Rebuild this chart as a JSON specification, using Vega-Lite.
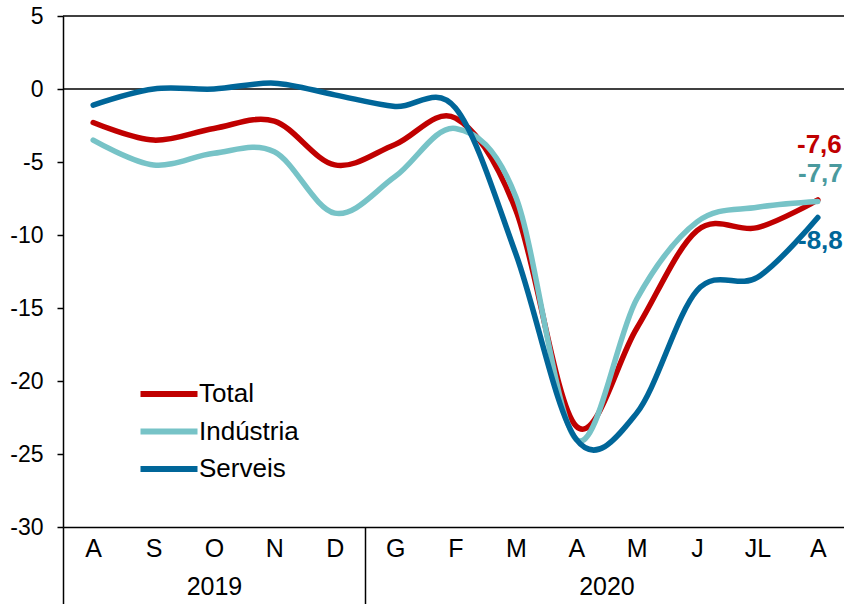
{
  "$schema": "https://vega.github.io/schema/vega-lite/v6.json",
  "width": 785,
  "height": 511,
  "autosize": "none",
  "padding": {"left": 63, "top": 16, "right": 0, "bottom": 77},
  "background": "white",
  "config": {
    "view": {"stroke": null},
    "font": "Liberation Sans",
    "locale": {"number": {"decimal": ",", "thousands": ".", "grouping": [3], "currency": ["", " €"], "minus": "-"}}
  },
  "layer": [
    {
      "data": {"values": [{"v": 0, "a": 0, "b": 13}, {"v": 5, "a": 0, "b": 13}]},
      "mark": {"type": "rule", "color": "black", "strokeWidth": 1.5},
      "encoding": {
        "y": {
          "field": "v", "type": "quantitative",
          "scale": {"domain": [-30, 5], "nice": false},
          "axis": {
            "title": null, "grid": false, "values": [-30, -25, -20, -15, -10, -5, 0, 5],
            "domainColor": "black", "domainWidth": 1.5,
            "tickColor": "black", "tickSize": 6, "tickWidth": 1.5,
            "labelFontSize": 23, "labelColor": "black", "labelPadding": 14,
            "labelFont": "Liberation Sans"
          }
        },
        "x": {
          "field": "a", "type": "quantitative",
          "scale": {"domain": [0, 13], "nice": false, "zero": false},
          "axis": {
            "orient": "bottom", "title": null, "domain": false, "grid": false,
            "values": [0, 2.5, 5, 9],
            "ticks": true, "tickSize": 77, "tickWidth": 1.5,
            "tickColor": {"condition": {"test": "datum.value == 0 || datum.value == 5", "value": "black"}, "value": "transparent"},
            "labelExpr": "datum.value == 2.5 ? '2019' : datum.value == 9 ? '2020' : ''",
            "labelFontSize": 25, "labelColor": "black", "labelPadding": -30,
            "labelFont": "Liberation Sans", "labelOverlap": false
          }
        },
        "x2": {"field": "b"}
      }
    },
    {
      "data": {"values": [
        {"mes": "A_1", "serie": "Total", "valor": -2.3},
        {"mes": "S_2", "serie": "Total", "valor": -3.5},
        {"mes": "O_3", "serie": "Total", "valor": -2.7},
        {"mes": "N_4", "serie": "Total", "valor": -2.2},
        {"mes": "D_5", "serie": "Total", "valor": -5.2},
        {"mes": "G_6", "serie": "Total", "valor": -3.8},
        {"mes": "F_7", "serie": "Total", "valor": -2.0},
        {"mes": "M_8", "serie": "Total", "valor": -8.3},
        {"mes": "A_9", "serie": "Total", "valor": -23.1},
        {"mes": "M_10", "serie": "Total", "valor": -16.4},
        {"mes": "J_11", "serie": "Total", "valor": -9.7},
        {"mes": "JL_12", "serie": "Total", "valor": -9.5},
        {"mes": "A_13", "serie": "Total", "valor": -7.6},
        {"mes": "A_1", "serie": "Indústria", "valor": -3.5},
        {"mes": "S_2", "serie": "Indústria", "valor": -5.2},
        {"mes": "O_3", "serie": "Indústria", "valor": -4.4},
        {"mes": "N_4", "serie": "Indústria", "valor": -4.3},
        {"mes": "D_5", "serie": "Indústria", "valor": -8.5},
        {"mes": "G_6", "serie": "Indústria", "valor": -6.0},
        {"mes": "F_7", "serie": "Indústria", "valor": -2.7},
        {"mes": "M_8", "serie": "Indústria", "valor": -7.4},
        {"mes": "A_9", "serie": "Indústria", "valor": -24.0},
        {"mes": "M_10", "serie": "Indústria", "valor": -14.4},
        {"mes": "J_11", "serie": "Indústria", "valor": -9.1},
        {"mes": "JL_12", "serie": "Indústria", "valor": -8.1},
        {"mes": "A_13", "serie": "Indústria", "valor": -7.7},
        {"mes": "A_1", "serie": "Serveis", "valor": -1.1},
        {"mes": "S_2", "serie": "Serveis", "valor": 0.0},
        {"mes": "O_3", "serie": "Serveis", "valor": 0.0},
        {"mes": "N_4", "serie": "Serveis", "valor": 0.4},
        {"mes": "D_5", "serie": "Serveis", "valor": -0.4},
        {"mes": "G_6", "serie": "Serveis", "valor": -1.2},
        {"mes": "F_7", "serie": "Serveis", "valor": -1.3},
        {"mes": "M_8", "serie": "Serveis", "valor": -11.3},
        {"mes": "A_9", "serie": "Serveis", "valor": -24.0},
        {"mes": "M_10", "serie": "Serveis", "valor": -22.2},
        {"mes": "J_11", "serie": "Serveis", "valor": -13.8},
        {"mes": "JL_12", "serie": "Serveis", "valor": -12.9},
        {"mes": "A_13", "serie": "Serveis", "valor": -8.8}
      ]},
      "encoding": {
        "x": {
          "field": "mes", "type": "nominal", "sort": null,
          "scale": {"type": "point", "padding": 0.5},
          "axis": {
            "orient": "bottom", "title": null, "grid": false,
            "ticks": false, "tickSize": 0,
            "domain": true, "domainColor": "black", "domainWidth": 1.5,
            "labelExpr": "split(datum.value, '_')[0]",
            "labelFontSize": 25, "labelColor": "black", "labelPadding": 9,
            "labelFont": "Liberation Sans", "labelAngle": 0
          }
        },
        "y": {
          "field": "valor", "type": "quantitative",
          "scale": {"domain": [-30, 5], "nice": false},
          "axis": {
            "title": null, "grid": false, "values": [-30, -25, -20, -15, -10, -5, 0, 5],
            "domainColor": "black", "domainWidth": 1.5,
            "tickColor": "black", "tickSize": 6, "tickWidth": 1.5,
            "labelFontSize": 23, "labelColor": "black", "labelPadding": 14,
            "labelFont": "Liberation Sans"
          }
        }
      },
      "layer": [
        {
          "mark": {"type": "line", "interpolate": "cardinal", "strokeWidth": 5.5, "strokeCap": "round", "strokeJoin": "round"},
          "encoding": {
            "color": {
              "field": "serie", "type": "nominal",
              "scale": {"domain": ["Total", "Indústria", "Serveis"], "range": ["#C00000", "#77C3C7", "#006699"]},
              "legend": {
                "title": null, "orient": "none", "legendX": 93, "legendY": 365,
                "symbolType": "M-5.7,0H5.7", "symbolSize": 100, "symbolStrokeWidth": 6,
                "labelFontSize": 26, "labelFont": "Liberation Sans", "labelColor": "black",
                "labelOffset": 17, "rowPadding": 11.5, "padding": 0
              }
            }
          }
        },
        {
          "transform": [{"filter": "datum.mes == 'A_13' && datum.serie == 'Total'"}],
          "mark": {"type": "text", "align": "right", "baseline": "middle", "dx": 24, "dy": -55, "fontSize": 26, "fontWeight": "bold", "color": "#C00000", "font": "Liberation Sans"},
          "encoding": {"text": {"field": "valor", "type": "quantitative", "format": ".1f"}}
        },
        {
          "transform": [{"filter": "datum.mes == 'A_13' && datum.serie == 'Indústria'"}],
          "mark": {"type": "text", "align": "right", "baseline": "middle", "dx": 25, "dy": -27, "fontSize": 26, "fontWeight": "bold", "color": "#4A9A9E", "font": "Liberation Sans"},
          "encoding": {"text": {"field": "valor", "type": "quantitative", "format": ".1f"}}
        },
        {
          "transform": [{"filter": "datum.mes == 'A_13' && datum.serie == 'Serveis'"}],
          "mark": {"type": "text", "align": "right", "baseline": "middle", "dx": 25, "dy": 24, "fontSize": 26, "fontWeight": "bold", "color": "#006699", "font": "Liberation Sans"},
          "encoding": {"text": {"field": "valor", "type": "quantitative", "format": ".1f"}}
        }
      ]
    }
  ],
  "resolve": {"scale": {"x": "independent"}}
}
